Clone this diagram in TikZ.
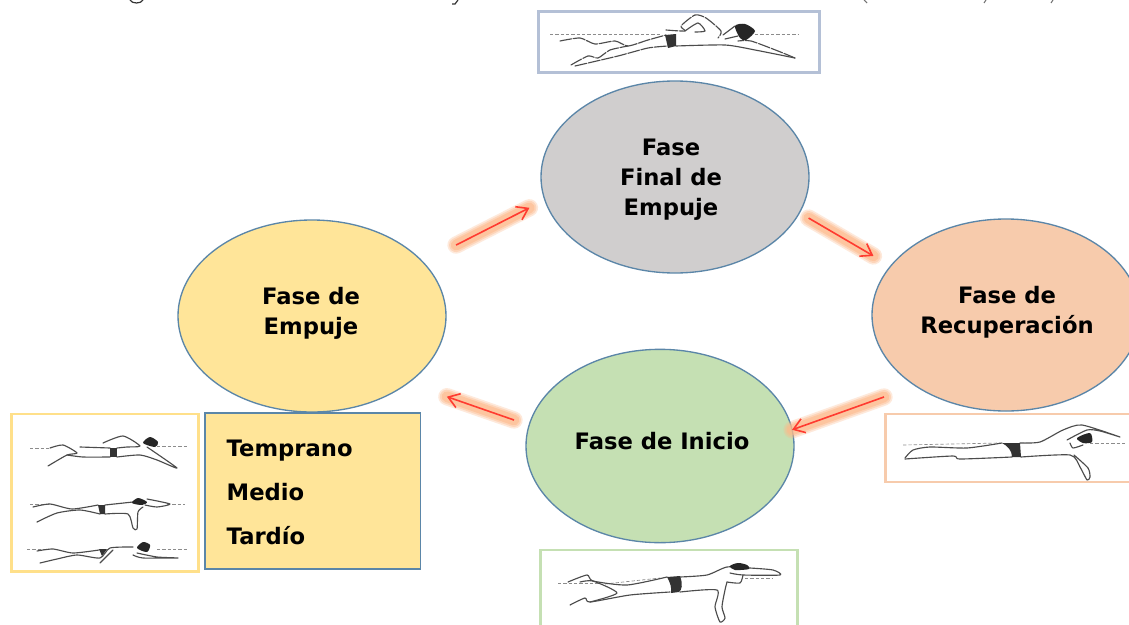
\documentclass[tikz,border=0pt]{standalone}
\usepackage{fontspec}
\setmainfont{DejaVu Sans}
\usetikzlibrary{arrows.meta,shapes.geometric}
\definecolor{ringblue}{HTML}{5B86A8}
\definecolor{cgray}{HTML}{D0CECE}
\definecolor{cpeach}{HTML}{F7CBAC}
\definecolor{cgreen}{HTML}{C5E0B3}
\definecolor{cyellow}{HTML}{FFE599}
\definecolor{glowc}{HTML}{FDB98A}
\definecolor{arrowred}{HTML}{FF3B30}
\definecolor{fr}{HTML}{B4C0D6}
\definecolor{fy}{HTML}{FFE08A}
\definecolor{fg}{HTML}{C5E0B3}
\definecolor{fp}{HTML}{F7CBAC}
\tikzset{
 x=0.75pt,y=-0.75pt,
 phase/.style={ellipse,draw=ringblue,line width=1pt,outer sep=0pt,minimum width=201pt,minimum height=144pt},
 lbl/.style={font=\bfseries\fontsize{17}{22.5}\selectfont,align=center,text=black},
 glowa/.style={draw=glowc,line width=13pt,line cap=round,opacity=.3},
 glowb/.style={draw=glowc,line width=10.5pt,line cap=round,opacity=.4},
 glowd/.style={draw=glowc,line width=8pt,line cap=round,opacity=.55},
 redarrow/.style={draw=arrowred,line width=1.2pt,-{Straight Barb[length=8pt,width=11pt,line width=1.2pt]}},
 photo/.style={line width=2.2pt,fill=white,outer sep=0pt,inner sep=0pt,anchor=north west},
 body/.style={draw=black!70,line width=0.85pt,line join=round,line cap=round},
 broken/.style={body,dash pattern=on 9pt off 1.2pt},
 trunks/.style={fill=black!80,draw=none},
 water/.style={draw=black!45,line width=0.5pt,dash pattern=on 2.5pt off 1.5pt},
 hair/.style={fill=black!85,draw=none}
}
\begin{document}
\begin{tikzpicture}
\useasboundingbox (0,0) rectangle (1129,625);
\fill[white] (0,0) rectangle (1129,625);

% cut-off remains of the caption at the top edge
\draw[black!80,line width=0.9pt] (130,0) .. controls (132,4) and (141,4) .. (143,0);
\draw[black!80,line width=0.9pt] (458,0) -- (455,4) -- (452,4);
\draw[black!55,line width=0.8pt] (864,0) -- (867,3);
\draw[black!55,line width=0.8pt] (986,0) -- (984,3);
\draw[black!55,line width=0.8pt] (1053,0) -- (1051,3);

% phases
\node[phase,fill=cgray] (final) at (675,177) {};
\node[phase,fill=cpeach] (recu) at (1006,315) {};
\node[phase,fill=cgreen,minimum height=145pt] (inicio) at (660,446) {};
\node[phase,fill=cyellow] (empuje) at (312,316) {};

\node[lbl] (lfinal) at (671,180) {Fase\\Final de\\Empuje};
\node[lbl] (lrecu) at (1007,312) {Fase de\\Recuperación};
\node[lbl] (linicio) at (662,441) {Fase de Inicio};
\node[lbl] (lempuje) at (311,313) {Fase de\\Empuje};

% list box
\node[draw=ringblue,fill=cyellow,line width=1pt,outer sep=0pt,minimum width=161.5pt,minimum height=117pt,anchor=north west,inner sep=0pt] (list) at (205,413) {};
\node[lbl,anchor=west] (t1) at (222,451) {Temprano};
\node[lbl,anchor=west] (t2) at (222,492) {Medio};
\node[lbl,anchor=west] (t3) at (222,536) {Tardío};

% connectors
\newcommand{\glowarrow}[4]{%
 \draw[glowa,shorten <=#3,shorten >=#4] (#1) -- (#2);
 \draw[glowb,shorten <=#3,shorten >=#4] (#1) -- (#2);
 \draw[glowd,shorten <=#3,shorten >=#4] (#1) -- (#2);
 \draw[redarrow,shorten <=#3,shorten >=#4] (#1) -- (#2);
}
\glowarrow{empuje.26}{final.190}{28pt}{13pt}
\glowarrow{final.-16}{recu.157}{8pt}{15pt}
\glowarrow{recu.218}{inicio.7}{25pt}{0pt}
\glowarrow{inicio.171}{empuje.-35}{12pt}{31pt}

% photo frames
\node[photo,draw=fr,minimum width=211pt,minimum height=46pt] (ptop) at (538.5,11.5) {};
\node[photo,draw=fy,minimum width=140.5pt,minimum height=118pt] (pleft) at (11.5,414) {};
\node[photo,draw=fg,minimum width=193pt,minimum height=60pt] (pbot) at (540.5,550) {};
\node[photo,draw=fp,minimum width=190pt,minimum height=51pt] (pright) at (885.5,414) {};

% top swimmer
\draw[water] (550,34) -- (661,34);
\draw[water] (755,34) -- (798,34);
\draw[broken] plot[smooth,tension=.4] coordinates {(560,41) (580,38) (595,44) (615,41) (628,46) (648,40) (666,35)};
\draw[broken] plot[smooth,tension=.4] coordinates {(571,65) (588,56) (598,58) (610,50) (628,46)};
\draw[broken] plot[smooth,tension=.4] coordinates {(575,66) (618,56) (648,48) (668,46)};
\draw[body] plot[smooth,tension=.4] coordinates {(676,46) (725,45) (755,50) (795,58)};
\draw[broken] plot[smooth,tension=.4] coordinates {(795,58) (778,51) (751,41) (738,41)};
\draw[broken] plot[smooth,tension=.4] coordinates {(666,30) (685,31) (681,26) (695,15) (706,18) (721,31) (718,38)};
\draw[body] plot[smooth,tension=.4] coordinates {(685,31) (698,23) (705,31) (695,32)};
\draw[body] (723,35) -- (735,26);
\draw[body] (725,39) -- (738,36);
\fill[trunks] (665,35) -- (676,34) -- (676,46) -- (668,48) -- cycle;
\fill[hair] plot[smooth cycle,tension=.5] coordinates {(735,26) (745,24) (755,31) (746,40) (740,38)};

% left swimmer 1
\draw[water] (30,448) -- (50,448);
\draw[water] (157,446) -- (188,446);
\draw[body] plot[smooth,tension=.4] coordinates {(50,448) (63,445) (77,453) (67,455) (48,466)};
\draw[body] plot[smooth,tension=.4] coordinates {(67,455) (83,457) (110,457)};
\draw[body] plot[smooth,tension=.4] coordinates {(80,447) (110,448)};
\draw[body] plot[smooth,tension=.4] coordinates {(103,443) (123,436) (140,446) (127,447) (117,448)};
\draw[body] plot[smooth,tension=.4] coordinates {(147,447) (177,468) (157,460) (140,455) (117,457)};
\fill[trunks] (110,448) rectangle (117,457);
\fill[hair] plot[smooth cycle,tension=.5] coordinates {(143,443) (150,437) (158,442) (155,447)};

% left swimmer 2
\draw[water] (30,504) -- (50,504);
\draw[water] (167,504) -- (185,504);
\draw[body] plot[smooth,tension=.4] coordinates {(37,522) (57,513) (80,510) (100,514)};
\draw[body] plot[smooth,tension=.4] coordinates {(33,507) (50,504) (72,509) (98,505)};
\draw[body] plot[smooth,tension=.4] coordinates {(105,505) (133,502)};
\draw[body] plot[smooth,tension=.4] coordinates {(147,499) (170,504) (157,507) (145,505)};
\draw[body] plot[smooth,tension=.4] coordinates {(105,514) (128,514) (133,528) (137,529) (138,512) (143,507)};
\fill[trunks] (98,505) -- (105,505) -- (105,514) -- (100,514) -- cycle;
\fill[hair] plot[smooth cycle,tension=.5] coordinates {(132,503) (138,498) (147,502) (142,505)};

% left swimmer 3
\draw[water] (27,549) -- (47,549);
\draw[water] (157,549) -- (187,549);
\draw[body] plot[smooth,tension=.4] coordinates {(40,563) (57,559) (77,555) (100,558) (110,548) (133,547)};
\draw[body] plot[smooth,tension=.4] coordinates {(37,551) (53,549) (73,553) (99,550)};
\draw[body] plot[smooth,tension=.4] coordinates {(137,553) (157,557) (178,558) (143,558) (133,555)};
\draw[body] (113,550) -- (100,563);
\fill[trunks] (99,549) -- (107,549) -- (102,556) -- cycle;
\fill[hair] plot[smooth cycle,tension=.5] coordinates {(137,548) (143,542) (150,545) (147,552)};

% bottom swimmer
\draw[water] (558,583) -- (600,583);
\draw[water] (605,584) -- (660,578);
\draw[water] (745,578) -- (772,578);
\draw[body] plot[smooth,tension=.4] coordinates {(568,582) (587,575) (593,581) (627,585) (667,577)};
\draw[body] plot[smooth,tension=.4] coordinates {(680,577) (707,575) (727,567) (750,568) (773,570) (780,575) (743,575) (730,573)};
\draw[body] plot[smooth,tension=.4] coordinates {(743,575) (740,583) (727,582)};
\draw[body] plot[smooth,tension=.4] coordinates {(680,592) (717,590) (715,607) (720,622) (725,618) (722,607) (725,590) (727,582)};
\draw[body] plot[smooth,tension=.4] coordinates {(570,605) (585,598) (590,602) (630,595) (670,592)};
\draw[body] plot[smooth,tension=.4] coordinates {(580,582) (593,581) (617,593) (590,602)};
\fill[trunks] (667,577) -- (680,576) .. controls (683,584) and (682,590) .. (679,592) -- (671,593) .. controls (672,588) and (670,582) .. (667,577) -- cycle;
\fill[hair] plot[smooth cycle,tension=.5] coordinates {(730,566) (738,563) (747,565) (749,569) (735,570)};

% right swimmer
\draw[water] (903,445) -- (1000,443);
\draw[water] (1090,443) -- (1127,443);
\draw[body] plot[smooth,tension=.4] coordinates {(905,458) (913,450) (930,447) (967,448) (1002,443)};
\draw[body] plot[smooth,tension=.4] coordinates {(1020,443) (1040,442) (1063,430) (1082,425) (1120,437) (1100,431) (1087,430) (1067,440)};
\draw[body] plot[smooth,tension=.4] coordinates {(1070,443) (1073,448) (1083,445)};
\draw[body] plot[smooth,tension=.4] coordinates {(905,459) (953,456) (960,459) (1012,457)};
\draw[body] plot[smooth,tension=.4] coordinates {(1021,457) (1070,455) (1080,467) (1087,480) (1090,477) (1088,468) (1074,455)};
\fill[trunks] (1002,443) -- (1020,443) -- (1021,457) -- (1012,457) .. controls (1012,451) and (1008,446) .. (1002,443) -- cycle;
\fill[hair] plot[smooth cycle,tension=.5] coordinates {(1077,438) (1090,433) (1092,442) (1083,443)};
\end{tikzpicture}
\end{document}
